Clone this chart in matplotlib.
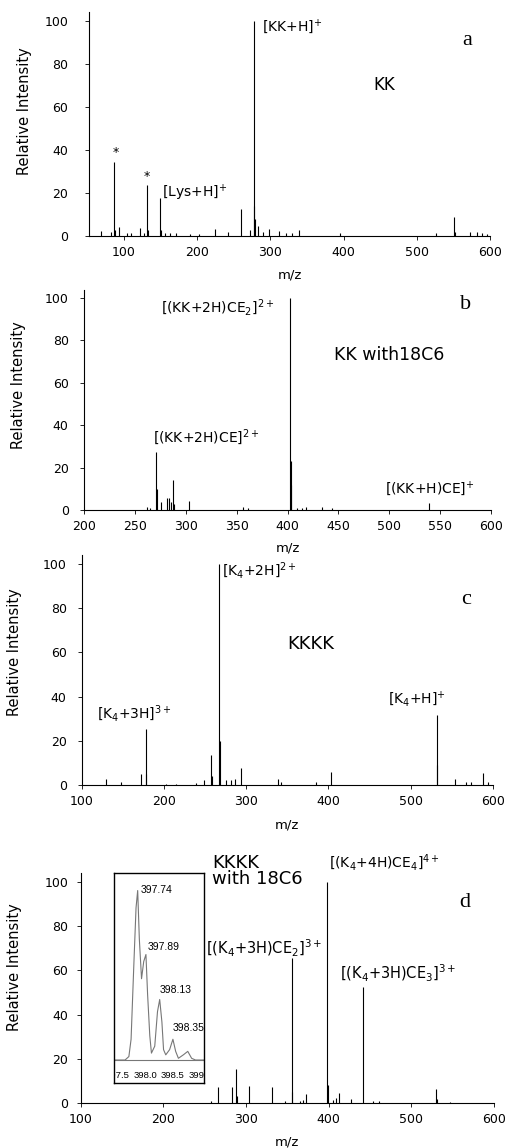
import numpy as np
import matplotlib
matplotlib.use("Agg")
import matplotlib.pyplot as plt

plt.rcParams['font.family'] = ['DejaVu Sans']
plt.rcParams['mathtext.fontset'] = 'dejavusans'

# ---- peak lists (m/z, relative intensity) ----
mz_a = [69.6, 83, 87, 89, 94, 104.6, 110, 122, 128, 131.9, 133, 150, 151.5, 157, 163,
        172, 190, 203, 225, 242, 259.6, 272, 277.4, 278.5, 279.5, 284, 290, 299, 311.5,
        322, 330, 338.8, 394.7, 526, 550.7, 552, 572, 582, 589, 596]
int_a = [2.5, 2, 34.2, 3, 4, 1.5, 1.5, 3.9, 1.5, 23.8, 3, 17.6, 3, 1.5, 1.5,
         1.5, 1, 1, 3.1, 2, 12.5, 2.8, 100, 14, 8, 4.6, 2, 3.4, 2.5,
         1.5, 1.2, 2.8, 1.2, 1.5, 9.0, 2, 2, 1.8, 1.5, 1]

mz_b = [262, 264.6, 270.5, 271.5, 275.4, 282, 283.6, 285.3, 287.6, 288.5, 303.3,
        356.4, 361, 402.5, 403, 403.5, 409, 413.8, 418, 434, 444, 539.3]
int_b = [1.6, 1.0, 27.3, 10, 3.6, 5.7, 5.7, 4, 14.2, 3, 4.2,
         1.6, 0.8, 100, 23, 12, 0.8, 0.8, 1.6, 1.6, 1.0, 3.5]

mz_c = [128.9, 148, 172.3, 177.4, 178, 202, 215, 239.3, 248.2, 257.4, 258, 266.5,
        267.5, 275, 282, 286.8, 293.8, 338.8, 342.8, 385.5, 403.2, 531.6, 532.3,
        554, 568, 574, 587.7, 594.6]
int_c = [2.7, 1.2, 5.0, 25.4, 5, 0.6, 0.6, 0.8, 2.3, 13.4, 4, 100,
         20, 2.3, 2.3, 2.5, 7.7, 2.7, 1.2, 1.5, 6.0, 31.7, 9,
         2.7, 1.2, 1.2, 5.4, 1.2]

mz_d = [258, 266.3, 282.4, 287.8, 289, 303.8, 332, 347, 355.1, 356, 365, 369, 373,
        398.6, 399.5, 405.5, 408.7, 412.3, 426.9, 441.8, 454, 461, 530.6, 531.5, 546.7]
int_d = [0.8, 7.1, 7.2, 15.3, 3, 7.8, 7.1, 1, 65.4, 5, 1.0, 1.2, 4.1,
         100, 8, 1.5, 2.3, 4.5, 1.8, 52.6, 1.0, 0.8, 6.5, 2, 0.5]

# inset: zoom on the 4+ isotope cluster
mz_in = [397.43, 397.63, 397.70, 397.74, 397.79, 397.83, 397.86, 397.89, 397.93,
         397.97, 398.01, 398.04, 398.08, 398.11, 398.17, 398.22, 398.26, 398.30,
         398.33, 398.37, 398.44, 398.50, 398.55, 398.60, 398.69, 398.77, 398.84,
         398.91, 399.09]
int_in = [0, 0, 2, 12, 55, 88, 98, 70, 47, 57, 61, 38, 14, 4, 8, 28, 35, 22,
          6, 3, 6, 12, 5, 1, 3, 5, 1, 0, 0]
in_ticks = [397.5, 398.0, 398.5, 399.0]
in_tick_labels = ['397.5', '398.0', '398.5', '399.0']

fig = plt.figure(figsize=(5.09, 11.48), dpi=100)

# [left, bottom, width, height], xlim, xticks, ytick pad, ylabel coords, xlabel y
panels = [
    ([0.175, 0.7944, 0.788, 0.1948], (53, 600), np.arange(100, 601, 100), 12, (-0.16, 0.56), -0.174, mz_a, int_a),
    ([0.165, 0.5557, 0.800, 0.1921], (200, 600), np.arange(200, 601, 50), 8, (-0.16, 0.567), -0.171, mz_b, int_b),
    ([0.161, 0.3162, 0.807, 0.2002], (100, 600), np.arange(100, 601, 100), 8, (-0.163, 0.58), -0.176, mz_c, int_c),
    ([0.159, 0.0392, 0.811, 0.2002], (100, 600), np.arange(100, 601, 100), 6, (-0.16, 0.59), -0.168, mz_d, int_d),
]

axes = []
for rect, xl, xt, ypad, ylc, xly, mz, inten in panels:
    ax = fig.add_axes(rect)
    ax.vlines(mz, 0, inten, color='black', lw=0.8)
    ax.set_xlim(*xl)
    ax.set_ylim(0, 104)
    ax.set_xticks(xt)
    ax.set_yticks(np.arange(0, 101, 20))
    for s in ['top', 'right']:
        ax.spines[s].set_visible(False)
    for s in ['left', 'bottom']:
        ax.spines[s].set_linewidth(0.8)
    ax.tick_params(axis='y', length=3, width=0.6, pad=ypad, labelsize=9)
    ax.tick_params(axis='x', length=3, width=0.6, pad=4, labelsize=9)
    ax.set_ylabel('Relative Intensity', fontsize=10.5, va='center')
    ax.yaxis.set_label_coords(*ylc)
    ax.set_xlabel('m/z', fontsize=9.5, va='center')
    ax.xaxis.set_label_coords(0.5, xly)
    axes.append(ax)

ax_a, ax_b, ax_c, ax_d = axes
lab = dict(fontsize=10, va='center', ha='left')
serif = dict(family='Liberation Serif', fontsize=16, ha='center', va='center')

# panel a
ax_a.text(90, 39, '*', fontsize=9, ha='center', va='center')
ax_a.text(132, 27.7, '*', fontsize=9, ha='center', va='center')
ax_a.text(153, 20.3, '[Lys+H]$^{+}$', **lab)
ax_a.text(289, 97.4, '[KK+H]$^{+}$', **lab)
ax_a.text(455, 70.3, 'KK', fontsize=12, ha='center', va='center')
ax_a.text(568, 90.7, 'a', **serif)

# panel b
ax_b.text(276, 95.3, '[(KK+2H)CE$_{2}$]$^{2+}$', **lab)
ax_b.text(446, 73.2, 'KK with18C6', fontsize=12.5, ha='left', va='center')
ax_b.text(268, 34.6, '[(KK+2H)CE]$^{2+}$', **lab)
ax_b.text(496, 9.9, '[(KK+H)CE]$^{+}$', **lab)
ax_b.text(575, 96.8, 'b', **serif)

# panel c
ax_c.text(271, 96.9, '[K$_{4}$+2H]$^{2+}$', **lab)
ax_c.text(567, 84, 'c', **serif)
ax_c.text(378, 63.9, 'KKKK', fontsize=13, ha='center', va='center')
ax_c.text(118, 32.2, '[K$_{4}$+3H]$^{3+}$', **lab)
ax_c.text(472, 38.5, '[K$_{4}$+H]$^{+}$', **lab)

# panel d
ax_d.text(259, 105, 'KKKK\nwith 18C6', fontsize=13, ha='left', va='center',
          linespacing=0.9, clip_on=False)
ax_d.text(401, 108.5, '[(K$_{4}$+4H)CE$_{4}$]$^{4+}$', clip_on=False, **lab)
ax_d.text(565, 90.9, 'd', **serif)
ax_d.text(252, 69.9, '[(K$_{4}$+3H)CE$_{2}$]$^{3+}$', fontsize=10.5, ha='left', va='center')
ax_d.text(414, 58.6, '[(K$_{4}$+3H)CE$_{3}$]$^{3+}$', fontsize=10.5, ha='left', va='center')

# inset
axi = fig.add_axes([0.224, 0.0566, 0.1768, 0.1829])
axi.plot(mz_in, int_in, color='#777777', lw=0.8)
axi.axhline(0, color='#777777', lw=0.8)
axi.set_xlim(397.43, 399.065)
axi.set_ylim(-13.3, 108.1)
axi.set_xticks([])
axi.set_yticks([])
for s in axi.spines.values():
    s.set_linewidth(1.0)
    s.set_color('black')
small = dict(family='Liberation Sans', fontsize=7.5, va='center', ha='left')
axi.text(397.92, 98.3, '397.74', **small)
axi.text(398.035, 65.3, '397.89', **small)
axi.text(398.26, 40.5, '398.13', **small)
axi.text(398.495, 18.5, '398.35', clip_on=True, **small)
for t, tl in zip(in_ticks, in_tick_labels):
    axi.text(t, -8.7, tl, family='Liberation Sans', fontsize=6.8, ha='center',
             va='center', clip_on=True)

fig.savefig('out.png', dpi=100)
